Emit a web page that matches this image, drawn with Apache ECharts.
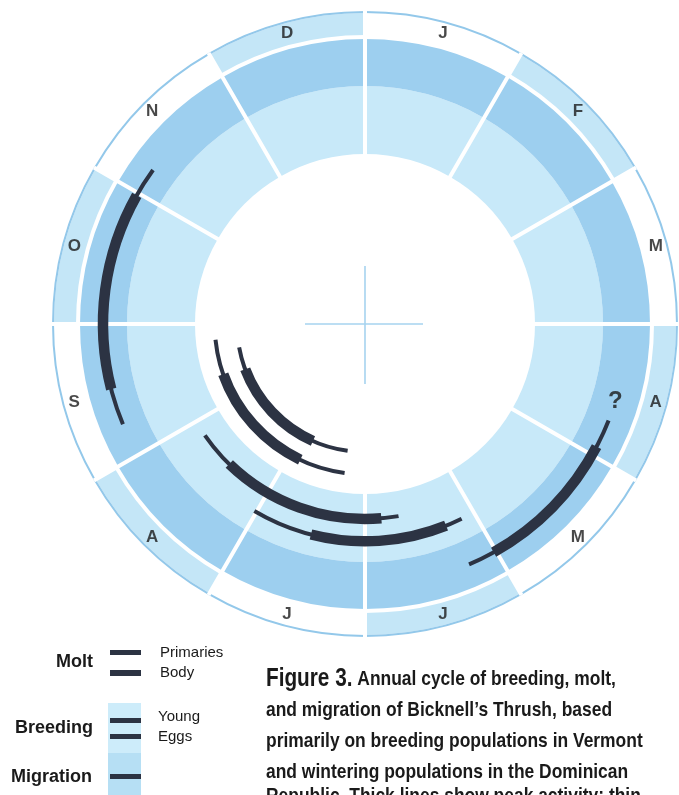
<!DOCTYPE html>
<html><head><meta charset="utf-8">
<script src="https://cdn.jsdelivr.net/npm/echarts@6/dist/echarts.min.js"></script>
<style>html,body{margin:0;padding:0;background:#fff}#c{width:679px;height:795px}</style>
</head><body><div id="c"></div>
<script>
// ---------- data ----------
const months = ['J','F','M','A','M','J','J','A','S','O','N','D'];
// radial lanes (inner -> outer); unnamed lanes are empty spacing lanes
const lanes = ['Primaries','Body','breeding-spacer','Young','Eggs','migration-spacer','Migration'];
// activities, in months since 1 January (thin = any activity, thick = peak activity)
const activityLane = ['Primaries','Body','Young','Eggs','Migration','Migration'];
const thinStart  = [6.26, 6.26, 5.67, 5.12, 3.72, 8.25];
const thickStart = [6.80, 6.85, 5.84, 5.27, 3.93, 8.52];
const thickEnd   = [8.31, 8.35, 7.47, 6.48, 5.02, 9.98];
const thinEnd    = [8.65, 8.80, 7.84, 7.02, 5.22, 10.20];
// annotation
const noteText  = ['?'];
const noteLane  = ['Migration'];
const noteMonth = [3.57];
// legend & caption text
const legendGroups = ['Molt','Breeding','Migration'];
const legendMolt = ['Primaries','Body'];
const legendBreeding = ['Young','Eggs'];
const captionLines = [
  '{f|Figure 3.} Annual cycle of breeding, molt,',
  'and migration of Bicknell\u2019s Thrush, based',
  'primarily on breeding populations in Vermont',
  'and wintering populations in the Dominican',
  'Republic. Thick lines show peak activity; thin'
];

// ---------- layout / style ----------
const CX = 365, CY = 324;
const R_HOLE = 170, R_INNER = 238, R_OUTER = 285, R_RING0 = 289, R_RING1 = 311, R_EDGE = 313;
const LIGHT = '#c8e9f9', DARK = '#9dcfef', RINGFILL = '#c4e6f7', EDGE = '#93c8ea', INK = '#2c3343', TXT = '#1a1a1a';
const FONT = 'Liberation Sans, Arial, Helvetica, sans-serif';
const CAPTION_Y = [679, 710, 741, 772, 796];

const chart = echarts.init(document.getElementById('c'), null, {renderer: 'canvas'});

function ring(name, width, color) {
  return {
    type: 'bar', coordinateSystem: 'polar', polarIndex: 0, stack: 'ring', name: name,
    data: months.map(() => width), barWidth: '100%', barCategoryGap: '0%',
    silent: true, z: 2, itemStyle: {color: color}
  };
}

function renderArc(params, api) {
  const cs = params.coordSys;
  const cx = cs.cx, cy = cs.cy;
  const lane = api.value(0);
  const P = [1, 2, 3, 4].map(d => api.coord([lane, api.value(d)]));
  const ang = p => Math.atan2(p[1] - cy, p[0] - cx);
  const r = Math.hypot(P[0][0] - cx, P[0][1] - cy);
  const mk = (a, b, w) => {
    const s = ang(a); let e = ang(b);
    while (e <= s) e += 2 * Math.PI;
    return {type: 'arc', shape: {cx: cx, cy: cy, r: r, startAngle: s, endAngle: e, clockwise: true},
            style: {stroke: INK, lineWidth: w, fill: 'none', lineCap: 'butt'}};
  };
  return {type: 'group', children: [mk(P[0], P[3], 4), mk(P[1], P[2], 10.5)]};
}

const graphics = [];
// crosshair in the centre
graphics.push({type: 'line', z: 20, shape: {x1: CX - 60, y1: CY, x2: CX + 58, y2: CY}, style: {stroke: '#a6d3ef', lineWidth: 1.6}});
graphics.push({type: 'line', z: 20, shape: {x1: CX, y1: CY - 58, x2: CX, y2: CY + 60}, style: {stroke: '#a6d3ef', lineWidth: 1.6}});
// legend
const bold18 = 'bold 18px ' + FONT, reg15 = '15px ' + FONT;
graphics.push({type: 'rect', shape: {x: 108, y: 703, width: 33, height: 50}, style: {fill: '#cdecfa'}});
graphics.push({type: 'rect', shape: {x: 108, y: 753, width: 33, height: 42}, style: {fill: '#b6dff4'}});
[[650, 5], [670, 6], [718, 5], [734, 5], [774, 5]].forEach(b => {
  graphics.push({type: 'rect', z: 5, shape: {x: 110, y: b[0], width: 31, height: b[1]}, style: {fill: INK}});
});
[[legendGroups[0], 93, 662], [legendGroups[1], 93, 728], [legendGroups[2], 92, 777]].forEach(t => {
  graphics.push({type: 'text', x: t[1], y: t[2], style: {text: t[0], font: bold18, fill: TXT, align: 'right', verticalAlign: 'middle'}});
});
[[legendMolt[0], 160, 653], [legendMolt[1], 160, 673], [legendBreeding[0], 158, 717], [legendBreeding[1], 158, 737]].forEach(t => {
  graphics.push({type: 'text', x: t[1], y: t[2], style: {text: t[0], font: reg15, fill: TXT, align: 'left', verticalAlign: 'middle'}});
});
// caption
captionLines.forEach((line, i) => {
  graphics.push({type: 'text', x: 266, y: CAPTION_Y[i], scaleX: 0.83,
    style: {text: line, font: 'bold 21px ' + FONT, fill: TXT, align: 'left', verticalAlign: 'middle',
      rich: {f: {fontSize: 25, fontWeight: 'bold', fontFamily: FONT, fill: TXT, verticalAlign: 'bottom'}}}});
});

const option = {
  animation: false,
  backgroundColor: '#ffffff',
  polar: [
    {center: [CX, CY], radius: [0, R_EDGE]},
    {center: [CX, CY], radius: [116.83, 273.17]}
  ],
  angleAxis: [
    {polarIndex: 0, type: 'category', data: months, startAngle: 90, clockwise: true, z: 3,
     axisLine: {show: false}, axisTick: {show: false}, axisLabel: {show: false},
     splitLine: {show: true, lineStyle: {color: '#ffffff', width: 4}}},
    {polarIndex: 1, type: 'value', min: 0, max: 12, startAngle: 90, clockwise: true,
     axisLine: {show: false}, axisTick: {show: false}, axisLabel: {show: false}, splitLine: {show: false}}
  ],
  radiusAxis: [
    {polarIndex: 0, type: 'value', min: 0, max: R_EDGE,
     axisLine: {show: false}, axisTick: {show: false}, axisLabel: {show: false}, splitLine: {show: false}},
    {polarIndex: 1, type: 'category', data: lanes,
     axisLine: {show: false}, axisTick: {show: false}, axisLabel: {show: false}, splitLine: {show: false}}
  ],
  series: [
    ring('hole', R_HOLE, 'transparent'),
    ring('inner', R_INNER - R_HOLE, LIGHT),
    ring('outer', R_OUTER - R_INNER, DARK),
    ring('gap', R_RING0 - R_OUTER, 'transparent'),
    ring('monthRing', R_RING1 - R_RING0, p => (p.dataIndex % 2 ? RINGFILL : 'transparent')),
    ring('edge', R_EDGE - R_RING1, EDGE),
    {
      type: 'scatter', coordinateSystem: 'polar', polarIndex: 0, silent: true, z: 6,
      data: months.map((m, i) => [(R_RING0 + R_EDGE) / 2, i]),
      symbolSize: 1, itemStyle: {color: 'transparent'},
      label: {show: true, position: 'inside', formatter: p => months[p.dataIndex],
              fontFamily: FONT, fontWeight: 'bold', fontSize: 17, color: TXT}
    },
    {
      type: 'custom', coordinateSystem: 'polar', polarIndex: 1, silent: true, z: 5,
      data: activityLane.map((l, i) => [lanes.indexOf(l), thinStart[i], thickStart[i], thickEnd[i], thinEnd[i]]),
      encode: {radius: 0, angle: [1, 2, 3, 4]},
      renderItem: renderArc
    },
    {
      type: 'scatter', coordinateSystem: 'polar', polarIndex: 1, silent: true, z: 6,
      data: noteText.map((t, i) => [lanes.indexOf(noteLane[i]), noteMonth[i]]),
      symbolSize: 1, itemStyle: {color: 'transparent'},
      label: {show: true, position: 'inside', formatter: p => noteText[p.dataIndex],
              fontFamily: FONT, fontWeight: 'bold', fontSize: 24, color: TXT}
    }
  ],
  graphic: {elements: graphics}
};
chart.setOption(option);
</script>
</body></html>
